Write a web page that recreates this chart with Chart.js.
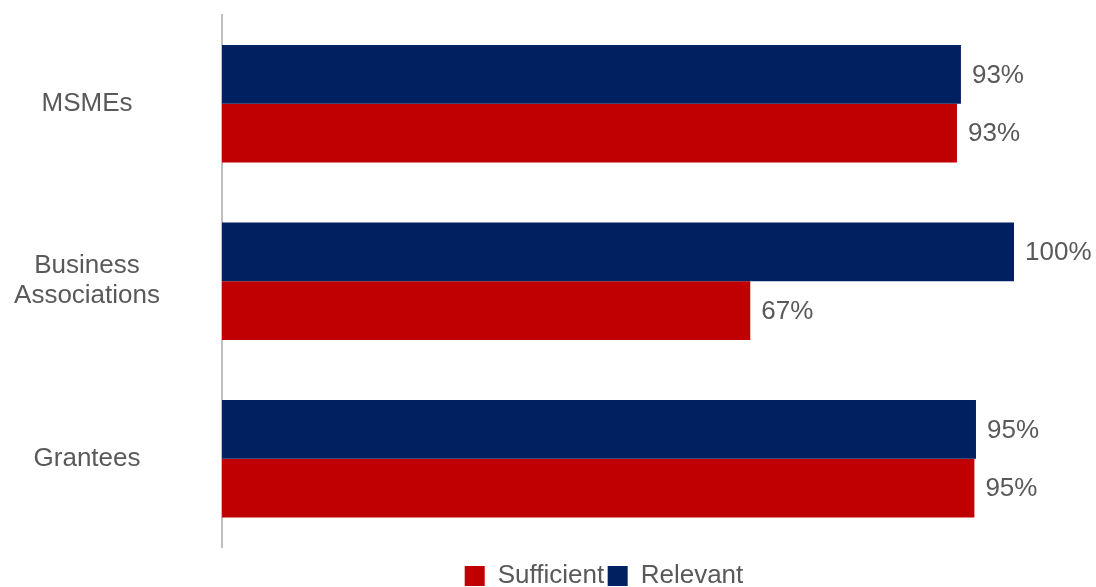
<!DOCTYPE html>
<html>
<head>
<meta charset="utf-8">
<title>Sufficient and relevant</title>
<script src="https://cdn.jsdelivr.net/npm/chart.js@4/dist/chart.umd.min.js"></script>
<style>
  html, body { margin: 0; padding: 0; background: #fff; }
  #wrap { width: 1096px; height: 587px; position: relative; }
</style>
</head>
<body>
<div id="wrap"><canvas id="chart"></canvas></div>
<script>
'use strict';

var groups = ['MSMEs', ['Business', 'Associations'], 'Grantees'];
var relevant = [93.3, 100, 95.2];
var sufficient = [92.8, 66.7, 95];

var textGrey = '#595959';
var fontFamily = '"Liberation Sans", Arial, sans-serif';

// percent labels to the right of each bar
var valueLabels = {
  id: 'valueLabels',
  afterDatasetsDraw: function(chart) {
    var ctx = chart.ctx;
    ctx.save();
    ctx.font = '26px ' + fontFamily;
    ctx.fillStyle = textGrey;
    ctx.textAlign = 'left';
    ctx.textBaseline = 'middle';
    chart.data.datasets.forEach(function(ds, i) {
      var meta = chart.getDatasetMeta(i);
      meta.data.forEach(function(bar, j) {
        ctx.fillText(Math.round(ds.data[j]) + '%', bar.x + 11, bar.y + 1);
      });
    });
    ctx.restore();
  }
};

// move the legend a bit left and down, it sits half off the bottom edge
var legendShift = {
  id: 'legendShift',
  afterLayout: function(chart) {
    var lg = chart.legend;
    lg.left -= 14;
    lg.right -= 14;
    lg.top += 12;
    lg.bottom += 12;
  }
};

var ctx = document.getElementById('chart').getContext('2d');

new Chart(ctx, {
  type: 'bar',
  data: {
    labels: groups,
    datasets: [{
      label: 'Relevant',
      data: relevant,
      backgroundColor: '#002060'
    }, {
      label: 'Sufficient',
      data: sufficient,
      backgroundColor: '#C00000'
    }]
  },
  options: {
    indexAxis: 'y',
    responsive: true,
    maintainAspectRatio: false,
    animation: false,
    categoryPercentage: 0.663,
    barPercentage: 1,
    layout: {
      padding: { top: 15, right: 82, bottom: 0, left: 0 }
    },
    scales: {
      x: {
        display: false,
        min: 0,
        max: 100
      },
      y: {
        grid: { display: false, drawTicks: false },
        border: { display: true, color: '#bfbfbf', width: 2 },
        ticks: {
          crossAlign: 'center',
          padding: 62,
          color: textGrey,
          font: { family: fontFamily, size: 26, lineHeight: 1.15 }
        },
        afterFit: function(scale) {
          // fixed axis width; the big tick padding should not eat the top and bottom
          scale.width = 222;
          scale.paddingTop = 0;
          scale.paddingBottom = 0;
        }
      }
    },
    plugins: {
      legend: {
        position: 'bottom',
        fullSize: false,
        reverse: true,
        labels: {
          boxWidth: 20,
          boxHeight: 20,
          padding: 3.5,
          color: textGrey,
          font: { family: fontFamily, size: 26 }
        }
      },
      tooltip: { enabled: false }
    }
  },
  plugins: [valueLabels, legendShift]
});
</script>
</body>
</html>
